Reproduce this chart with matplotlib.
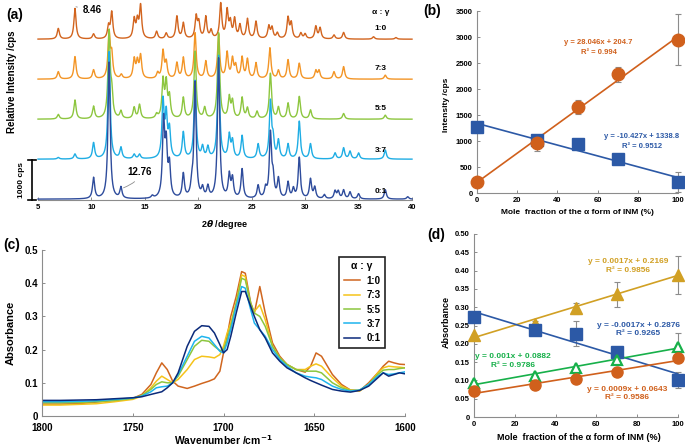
import numpy as np
import matplotlib
matplotlib.use("Agg")
import matplotlib.pyplot as plt

plt.rcParams["font.family"] = ["Liberation Sans", "DejaVu Sans"]
plt.rcParams["font.weight"] = "bold"
plt.rcParams["axes.labelweight"] = "bold"

W, H = 685, 446

# ── (a) PXRD peak lists: (2theta, height above baseline in cps) ─────────────
xrd_labels = ["1:0", "7:3", "5:5", "3:7", "0:1"]
xrd_colors = ["#D2641E", "#F39526", "#8DC63F", "#1FADE4", "#2E4C9C"]
xrd_offsets = [4000, 3000, 2000, 1000, 0]
xrd_peaks = [
    [(6.9, 265), (8.46, 765), (10.2, 125), (11.6, 310), (11.9, 660), (14.0, 475),
     (14.3, 420), (14.6, 810), (16.1, 185), (17.0, 140), (18.0, 560), (18.6, 390),
     (19.8, 540), (20.05, 380), (20.7, 540), (21.2, 200), (22.1, 865), (22.7, 680),
     (23.0, 380), (23.4, 475), (23.9, 330), (24.6, 490), (25.4, 430), (26.6, 310),
     (26.9, 270), (27.4, 140), (28.4, 515), (28.7, 380), (29.6, 140), (30.0, 120),
     (31.0, 310), (31.4, 270), (32.7, 100), (33.6, 165), (36.4, 60), (38.5, 40)],
    [(6.9, 185), (8.46, 560), (10.2, 225), (11.65, 1140), (11.9, 560), (12.8, 100),
     (14.0, 475), (14.3, 400), (14.6, 560), (16.2, 140), (16.7, 680), (17.0, 390),
     (18.0, 390), (18.6, 520), (19.7, 1140), (20.7, 430), (21.9, 1100), (22.7, 640),
     (23.2, 475), (23.5, 300), (24.1, 520), (24.6, 475), (25.4, 390), (26.7, 770),
     (27.5, 205), (28.4, 475), (29.45, 390), (31.0, 205), (31.3, 205), (32.7, 180),
     (33.6, 310), (37.5, 100)],
    [(6.9, 115), (8.46, 475), (10.2, 310), (11.65, 2140), (11.9, 560), (12.76, 185),
     (14.0, 280), (14.5, 350), (16.1, 100), (16.7, 930), (17.0, 850), (17.3, 520),
     (18.6, 520), (19.7, 1680), (20.6, 265), (21.9, 2140), (22.9, 520), (23.2, 420),
     (24.1, 520), (24.6, 260), (25.5, 180), (26.75, 1140), (27.5, 280), (28.4, 390),
     (29.45, 560), (30.5, 225), (33.6, 140), (37.5, 100)],
    [(6.9, 40), (8.46, 125), (10.2, 400), (11.65, 2700), (12.76, 275), (14.0, 110),
     (14.5, 110), (16.7, 1400), (17.0, 1025), (17.3, 690), (18.6, 650), (19.7, 1940),
     (20.4, 275), (20.9, 275), (21.9, 2570), (22.9, 570), (23.2, 420), (24.1, 570),
     (25.6, 360), (26.75, 1400), (27.0, 440), (27.5, 440), (28.4, 360), (29.45, 940),
     (30.5, 375), (32.8, 150), (33.6, 275), (34.2, 190), (35.0, 150), (37.5, 230)],
    [(10.2, 525), (11.65, 3440), (12.76, 275), (15.7, 60), (16.75, 1860), (17.0, 1230),
     (17.3, 775), (18.6, 600), (19.4, 300), (19.7, 2875), (20.4, 230), (20.9, 275),
     (21.9, 3500), (22.9, 570), (23.2, 480), (24.1, 730), (25.6, 320), (26.3, 230),
     (26.75, 1600), (27.0, 480), (27.5, 480), (28.4, 400), (28.9, 230), (29.45, 1025),
     (30.5, 480), (30.9, 275), (31.8, 100), (32.8, 190), (33.1, 180), (33.6, 215),
     (34.2, 170), (35.0, 130), (37.5, 235), (39.6, 60)],
]

# ── (b) intensity vs mole fraction ─────────────────────────────────────────
frac = [0, 30, 50, 70, 100]
b_alpha = [220, 960, 1650, 2280, 2950]
b_alpha_err = [0, 150, 140, 150, 490]
b_gamma = [1260, 1020, 940, 660, 210]
b_gamma_err = [110, 0, 0, 0, 190]
b_fits = [(28.046, 204.7), (-10.427, 1338.8)]

# ── (c) IR spectra ─────────────────────────────────────────────────────────
wn = [1800, 1790, 1780, 1770, 1760, 1750, 1745, 1740, 1737, 1734, 1731, 1728,
      1725, 1720, 1716, 1712, 1708, 1705, 1702, 1700, 1698, 1696, 1693, 1690,
      1688, 1685, 1683, 1680, 1677, 1673, 1669, 1665, 1660, 1655, 1652, 1649,
      1646, 1640, 1635, 1630, 1625, 1620, 1615, 1612, 1609, 1606, 1603, 1600]
ir_1_0 = [0.036, 0.036, 0.037, 0.042, 0.047, 0.053, 0.065, 0.095, 0.13, 0.16, 0.14, 0.105,
          0.09, 0.083, 0.09, 0.098, 0.105, 0.112, 0.135, 0.19, 0.24, 0.3, 0.36, 0.435,
          0.43, 0.34, 0.31, 0.39, 0.31, 0.22, 0.18, 0.155, 0.14, 0.132, 0.15, 0.19,
          0.18, 0.125, 0.095, 0.078, 0.076, 0.1, 0.13, 0.15, 0.165, 0.16, 0.156, 0.155]
ir_7_3 = [0.033, 0.033, 0.035, 0.037, 0.043, 0.05, 0.06, 0.085, 0.105, 0.12, 0.11, 0.1,
          0.11, 0.14, 0.17, 0.18, 0.178, 0.175, 0.185, 0.21, 0.25, 0.28, 0.34, 0.425,
          0.42, 0.33, 0.315, 0.335, 0.29, 0.21, 0.175, 0.155, 0.14, 0.14, 0.15, 0.157,
          0.15, 0.115, 0.09, 0.078, 0.075, 0.095, 0.13, 0.145, 0.15, 0.148, 0.147, 0.145]
ir_5_5 = [0.04, 0.04, 0.041, 0.043, 0.047, 0.053, 0.062, 0.08, 0.095, 0.103, 0.1, 0.1,
          0.12, 0.17, 0.21, 0.228, 0.225, 0.21, 0.197, 0.2, 0.23, 0.27, 0.34, 0.415,
          0.41, 0.34, 0.31, 0.3, 0.27, 0.21, 0.175, 0.155, 0.14, 0.135, 0.135, 0.135,
          0.13, 0.1, 0.085, 0.077, 0.078, 0.095, 0.125, 0.138, 0.14, 0.14, 0.143, 0.145]
ir_3_7 = [0.043, 0.043, 0.044, 0.046, 0.05, 0.054, 0.06, 0.073, 0.085, 0.088, 0.09, 0.1,
          0.125, 0.18, 0.225, 0.24, 0.235, 0.215, 0.195, 0.19, 0.22, 0.26, 0.33, 0.39,
          0.385, 0.32, 0.28, 0.26, 0.24, 0.2, 0.17, 0.15, 0.13, 0.12, 0.117, 0.115,
          0.11, 0.09, 0.08, 0.075, 0.078, 0.095, 0.12, 0.13, 0.125, 0.127, 0.13, 0.133]
ir_0_1 = [0.047, 0.047, 0.048, 0.049, 0.052, 0.055, 0.058, 0.065, 0.069, 0.073, 0.085, 0.1,
          0.13, 0.21, 0.255, 0.272, 0.27, 0.25, 0.215, 0.19, 0.2, 0.24, 0.31, 0.375,
          0.375, 0.33, 0.3, 0.26, 0.235, 0.19, 0.165, 0.145, 0.13, 0.115, 0.107, 0.1,
          0.093, 0.08, 0.075, 0.072, 0.077, 0.09, 0.115, 0.13, 0.12, 0.125, 0.13, 0.127]
ir_series = [ir_1_0, ir_7_3, ir_5_5, ir_3_7, ir_0_1]
ir_colors = ["#D0661F", "#F5C31A", "#8CC63F", "#1EB4EE", "#0B2A7A"]

# ── (d) absorbance vs mole fraction ─────────────────────────────────────────
d_gold = [0.225, 0.255, 0.297, 0.335, 0.387]
d_gold_err = [0, 0.008, 0.015, 0.035, 0.052]
d_blue = [0.273, 0.238, 0.228, 0.178, 0.100]
d_blue_err = [0, 0, 0.033, 0.01, 0.022]
d_green = [0.093, 0.113, 0.133, 0.155, 0.19]
d_green_err = [0, 0, 0, 0, 0.04]
d_orange = [0.072, 0.088, 0.105, 0.122, 0.162]
d_fits = [(0.0017, 0.2169), (-0.0017, 0.2876), (0.001, 0.0882), (0.0009, 0.0643)]

ORANGE, BLUE, GOLD, GREEN = "#D0601C", "#2C59A6", "#D1A024", "#17B04A"
GREY = "#8c8c8c"

fig = plt.figure(figsize=(W / 100, H / 100), dpi=100)


def ax_px(l, t, r, b):
    return fig.add_axes([l / W, 1 - b / H, (r - l) / W, (b - t) / H])


def style(ax, size):
    for s in ["top", "right"]:
        ax.spines[s].set_visible(False)
    for s in ["left", "bottom"]:
        ax.spines[s].set_color(GREY)
        ax.spines[s].set_linewidth(0.8)
    ax.tick_params(direction="in", length=2.5, width=0.7, color=GREY,
                   labelsize=size, pad=3)


def err(ax, x, y, e):
    eb = ax.errorbar(x, y, yerr=e, fmt="none", ecolor=GREY, elinewidth=0.8,
                     capsize=2.5, capthick=0.8, zorder=1)
    for art in list(eb.lines[1]) + list(eb.lines[2]):
        art.set_clip_on(False)


# ── (a) ────────────────────────────────────────────────────────────────────
axa = ax_px(38, 0, 412, 200)
tt = np.arange(5, 40.001, 0.02)
hw = 0.12
for peaks, off, col in zip(xrd_peaks, xrd_offsets, xrd_colors):
    yy = np.full_like(tt, off + 20.0)
    for pos, h in peaks:
        yy += h * hw ** 2 / ((tt - pos) ** 2 + hw ** 2)
    axa.plot(tt, yy, color=col, lw=1.0, clip_on=False)
axa.set_xlim(5, 40)
axa.set_ylim(0, 5000)
style(axa, 5.5)
axa.spines["left"].set_visible(False)
axa.set_yticks([])
axa.set_xticks(range(5, 41, 5))
axa.set_xlabel(r"2$\boldsymbol{\theta}$ /degree", fontsize=6.5, labelpad=5)

yt = axa.get_yaxis_transform()
axa.plot([-0.016, -0.016], [0, 1000], color="black", lw=1.2, transform=yt, clip_on=False)
for yv in (0, 1000):
    axa.plot([-0.027, -0.006], [yv, yv], color="black", lw=1.2, transform=yt, clip_on=False)
axa.text(-0.043, 500, "1000 cps", rotation=90, transform=yt, ha="center",
         va="center", fontsize=6)

axa.text(37.1, 4680, "α : γ", ha="center", va="center", fontsize=6)
for lab, yv in zip(xrd_labels, [4300, 3275, 2275, 1250, 200]):
    axa.text(37.1, yv, lab, ha="center", va="center", fontsize=6)
axa.annotate("8.46", xy=(8.55, 4830), xytext=(9.2, 4750), fontsize=7,
             va="center", arrowprops=dict(arrowstyle="-", color=GREY, lw=0.6))
axa.annotate("12.76", xy=(12.76, 280), xytext=(13.4, 700), fontsize=7,
             va="center", arrowprops=dict(arrowstyle="-", color=GREY, lw=0.6,
                                          connectionstyle="angle3,angleA=90,angleB=20"))
fig.text(6 / W, 1 - 15 / H, "(a)", fontsize=10, va="center")
fig.text(12 / W, 1 - 82 / H, "Relative Intensity /cps", rotation=90,
         ha="center", va="center", fontsize=7)

# ── (b) ────────────────────────────────────────────────────────────────────
axb = ax_px(477, 11, 678, 193)
xs = np.array([0, 100])
for (m, c), col in zip(b_fits, [ORANGE, BLUE]):
    axb.plot(xs, m * xs + c, color=col, lw=1.2, zorder=2)
err(axb, frac, b_gamma, b_gamma_err)
err(axb, frac, b_alpha, b_alpha_err)
axb.plot(frac, b_gamma, "s", color=BLUE, ms=8, zorder=3, clip_on=False)
axb.plot(frac, b_alpha, "o", color=ORANGE, ms=9, zorder=4, clip_on=False)
axb.set_xlim(0, 100)
axb.set_ylim(0, 3500)
axb.set_xticks(range(0, 101, 20))
axb.set_yticks(range(0, 3501, 500))
style(axb, 5.5)
axb.text(60.5, 2900, "y = 28.046x + 204.7", color=ORANGE, ha="center", va="center", fontsize=5.5)
axb.text(60.5, 2710, "R² = 0.994", color=ORANGE, ha="center", va="center", fontsize=5.5)
axb.text(82, 1080, "y = -10.427x + 1338.8", color=BLUE, ha="center", va="center", fontsize=5.5)
axb.text(82, 890, "R² = 0.9512", color=BLUE, ha="center", va="center", fontsize=5.5)
fig.text(423 / W, 1 - 11 / H, "(b)", fontsize=10, va="center")
fig.text(446 / W, 1 - 105 / H, "Intensity /cps", rotation=90, ha="center",
         va="center", fontsize=6)
fig.text(577 / W, 1 - 213 / H, "Mole  fraction of the α form of INM (%)",
         ha="center", va="center", fontsize=6)

# ── (c) ────────────────────────────────────────────────────────────────────
axc = ax_px(42, 250, 405, 416)
for ys, col, lab in zip(ir_series, ir_colors, xrd_labels):
    axc.plot(wn, ys, color=col, lw=1.1, label=lab)
axc.set_xlim(1800, 1600)
axc.set_ylim(0, 0.5)
axc.set_xticks(range(1800, 1599, -50))
axc.set_yticks([0, 0.1, 0.2, 0.3, 0.4, 0.5])
axc.set_yticklabels(["0", "0.1", "0.2", "0.3", "0.4", "0.5"])
style(axc, 7)
axc.tick_params(axis="x", pad=5)
axc.set_xlabel("Wavenumber /cm$^{-1}$", fontsize=7.5, labelpad=0)
axc.set_ylabel("Absorbance", fontsize=8, labelpad=6)
leg = axc.legend(title="α : γ", loc="upper left", bbox_to_anchor=(0.805, 0.99),
                 fontsize=7, title_fontsize=7.5, handlelength=1.7,
                 handletextpad=0.6, borderpad=0.5, labelspacing=0.45,
                 fancybox=False, framealpha=1)
leg.get_frame().set_edgecolor("#222222")
leg.get_frame().set_linewidth(1.2)
leg.get_title().set_fontweight("bold")
fig.text(3 / W, 1 - 245 / H, "(c)", fontsize=10, va="center")

# ── (d) ────────────────────────────────────────────────────────────────────
axd = ax_px(474, 234, 678, 417)
for (m, c), col in zip(d_fits, [GOLD, BLUE, GREEN, ORANGE]):
    axd.plot(xs, m * xs + c, color=col, lw=1.2, zorder=2)
for ys, es in [(d_gold, d_gold_err), (d_blue, d_blue_err), (d_green, d_green_err)]:
    err(axd, frac, ys, es)
axd.plot(frac, d_gold, "^", color=GOLD, ms=8, zorder=3, clip_on=False)
axd.plot(frac, d_blue, "s", color=BLUE, ms=8, zorder=3, clip_on=False)
axd.plot(frac, d_green, "^", mfc="white", mec=GREEN, mew=1.6, ms=7.5, zorder=3, clip_on=False)
axd.plot(frac, d_orange, "o", color=ORANGE, ms=8, zorder=3, clip_on=False)
axd.set_xlim(0, 100)
axd.set_ylim(0, 0.5)
axd.set_xticks(range(0, 101, 20))
yd = np.arange(0, 0.501, 0.05)
axd.set_yticks(yd)
axd.set_yticklabels(["0"] + [f"{v:.2f}" for v in yd[1:]])
style(axd, 5.5)
axd.text(75.5, 0.426, "y = 0.0017x + 0.2169", color=GOLD, ha="center", va="center", fontsize=6)
axd.text(75.5, 0.401, "R² = 0.9856", color=GOLD, ha="center", va="center", fontsize=6)
axd.text(80.5, 0.251, "y = -0.0017x + 0.2876", color=BLUE, ha="center", va="center", fontsize=6)
axd.text(80.5, 0.227, "R² = 0.9265", color=BLUE, ha="center", va="center", fontsize=6)
axd.text(19, 0.166, "y = 0.001x + 0.0882", color=GREEN, ha="center", va="center", fontsize=6)
axd.text(19, 0.142, "R² = 0.9786", color=GREEN, ha="center", va="center", fontsize=6)
axd.text(75, 0.076, "y = 0.0009x + 0.0643", color=ORANGE, ha="center", va="center", fontsize=6)
axd.text(75, 0.052, "R² = 0.9586", color=ORANGE, ha="center", va="center", fontsize=6)
fig.text(427 / W, 1 - 235 / H, "(d)", fontsize=10, va="center")
fig.text(446 / W, 1 - 322 / H, "Absorbance", rotation=90, ha="center",
         va="center", fontsize=6.5)
fig.text(579 / W, 1 - 437 / H, "Mole  fraction of the α form of INM (%)",
         ha="center", va="center", fontsize=6.5)

fig.savefig("out.png", dpi=100)
